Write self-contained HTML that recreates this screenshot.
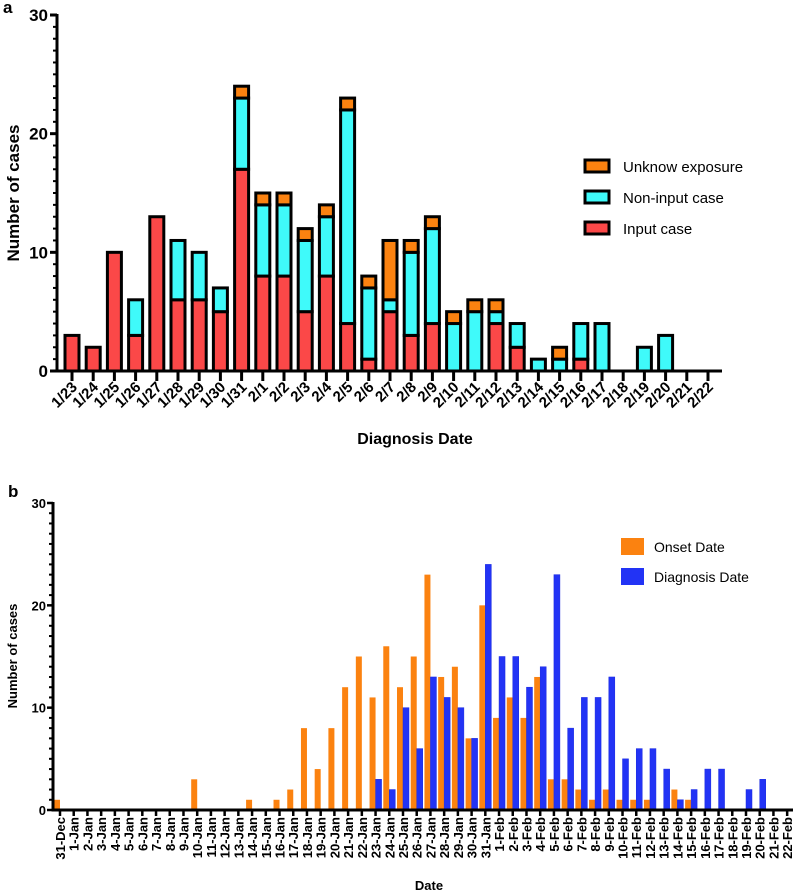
<!DOCTYPE html>
<html><head><meta charset="utf-8"><style>
body{margin:0;background:#fff;}
svg{display:block;font-family:"Liberation Sans",Arial,sans-serif;}
</style></head><body>
<svg id="fig" width="796" height="895" xmlns="http://www.w3.org/2000/svg">
<g id="chartA"></g>
<g id="chartB"></g>
</svg>
<script>
const NS="http://www.w3.org/2000/svg";
function mk(parent,tag,attrs,text){const e=document.createElementNS(NS,tag);for(const k in attrs)e.setAttribute(k,attrs[k]);if(text!==undefined)e.textContent=text;parent.appendChild(e);return e;}

// ---- Chart A data ----
const catsA=["1/23","1/24","1/25","1/26","1/27","1/28","1/29","1/30","1/31","2/1","2/2","2/3","2/4","2/5","2/6","2/7","2/8","2/9","2/10","2/11","2/12","2/13","2/14","2/15","2/16","2/17","2/18","2/19","2/20","2/21","2/22"];
const inputA=[3,2,10,3,13,6,6,5,17,8,8,5,8,4,1,5,3,4,0,0,4,2,0,0,1,0,0,0,0,0,0];
const nonInputA=[0,0,0,3,0,5,4,2,6,6,6,6,5,18,6,1,7,8,4,5,1,2,1,1,3,4,0,2,3,0,0];
const unknownA=[0,0,0,0,0,0,0,0,1,1,1,1,1,1,1,5,1,1,1,1,1,0,0,1,0,0,0,0,0,0,0];
const yTicksA=[0,10,20,30];

// ---- Chart B data ----
const catsB=["31-Dec","1-Jan","2-Jan","3-Jan","4-Jan","5-Jan","6-Jan","7-Jan","8-Jan","9-Jan","10-Jan","11-Jan","12-Jan","13-Jan","14-Jan","15-Jan","16-Jan","17-Jan","18-Jan","19-Jan","20-Jan","21-Jan","22-Jan","23-Jan","24-Jan","25-Jan","26-Jan","27-Jan","28-Jan","29-Jan","30-Jan","31-Jan","1-Feb","2-Feb","3-Feb","4-Feb","5-Feb","6-Feb","7-Feb","8-Feb","9-Feb","10-Feb","11-Feb","12-Feb","13-Feb","14-Feb","15-Feb","16-Feb","17-Feb","18-Feb","19-Feb","20-Feb","21-Feb","22-Feb"];
const onsetB=[1,0,0,0,0,0,0,0,0,0,3,0,0,0,1,0,1,2,8,4,8,12,15,11,16,12,15,23,13,14,7,20,9,11,9,13,3,3,2,1,2,1,1,1,0,2,1,0,0,0,0,0,0,0];
const diagB=[0,0,0,0,0,0,0,0,0,0,0,0,0,0,0,0,0,0,0,0,0,0,0,3,2,10,6,13,11,10,7,24,15,15,12,14,23,8,11,11,13,5,6,6,4,1,2,4,4,0,2,3,0,0];
const yTicksB=[0,10,20,30];

// ---- Chart A ----
(function(){
const g=document.getElementById('chartA');
const x0=57,y0=371,yTop=15,maxV=30;
const xA=i=>72+i*21.2;
const yA=v=>y0-(v/maxV)*(y0-yTop);
const bw=14;
mk(g,'text',{x:3,y:13,'font-size':17,'font-weight':'bold',},'a');
const colors=['#fb4848','#3ffafa','#fb8210'];
const series=[inputA,nonInputA,unknownA];
const names=['input-case','non-input-case','unknown-exposure'];
catsA.forEach((c,i)=>{
  let base=0;
  series.forEach((s,k)=>{
    const v=s[i]; if(v<=0)return;
    const r=mk(g,'rect',{x:xA(i)-bw/2,y:yA(base+v),width:bw,height:yA(base)-yA(base+v),fill:colors[k],stroke:'#000','stroke-width':3});
    
    
    base+=v;
  });
});
mk(g,'line',{x1:x0,y1:yTop-1,x2:x0,y2:y0+1.5,stroke:'#000','stroke-width':3,});
mk(g,'line',{x1:x0-1.5,y1:y0,x2:722,y2:y0,stroke:'#000','stroke-width':3,});
for(let v=0;v<=maxV;v++){const major=v%10===0;mk(g,'line',{x1:x0-(major?7:4),y1:yA(v),x2:x0,y2:yA(v),stroke:'#000','stroke-width':major?3:2});}
yTicksA.forEach(v=>{const t=mk(g,'text',{x:x0-9,y:yA(v)+6,'font-size':17,'font-weight':'bold','text-anchor':'end'},v);});
catsA.forEach((c,i)=>{
  mk(g,'line',{x1:xA(i),y1:y0,x2:xA(i),y2:y0+10,stroke:'#000','stroke-width':3});
  const t=mk(g,'text',{x:xA(i)+6,y:y0+17,'font-size':15,'font-weight':'bold','text-anchor':'end',transform:`rotate(-45 ${xA(i)+6} ${y0+17})`},c);
  
});
mk(g,'text',{x:19,y:193,'font-size':17,'font-weight':'bold','text-anchor':'middle',transform:'rotate(-90 19 193)',},'Number of cases');
mk(g,'text',{x:415,y:444,'font-size':16,'font-weight':'bold','text-anchor':'middle',},'Diagnosis Date');
const leg=[['Unknow exposure',colors[2],160],['Non-input case',colors[1],191],['Input case',colors[0],222]];
leg.forEach(l=>{const lg=mk(g,'g',{});
mk(lg,'rect',{x:585,y:l[2],width:24,height:12,fill:l[1],stroke:'#000','stroke-width':3});
mk(lg,'text',{x:623,y:l[2]+12,'font-size':15},l[0]);});
})();

// ---- Chart B ----
(function(){
const g=document.getElementById('chartB');
const x0=53,y0=810,yTop=503,maxV=30;
const xB=i=>60+i*13.72;
const yB=v=>y0-(v/maxV)*(y0-yTop);
const bw=6;
mk(g,'text',{x:8,y:497,'font-size':17,'font-weight':'bold',},'b');
catsB.forEach((c,i)=>{
  if(onsetB[i]>0){const r=mk(g,'rect',{x:xB(i)-bw,y:yB(onsetB[i]),width:bw,height:y0-yB(onsetB[i]),fill:'#fb8210'});
    }
  if(diagB[i]>0){const r=mk(g,'rect',{x:xB(i),y:yB(diagB[i]),width:bw,height:y0-yB(diagB[i]),fill:'#2233f5',stroke:'#1a2ae0','stroke-width':0.5});
    }
});
mk(g,'line',{x1:x0,y1:yTop-1,x2:x0,y2:y0+1.5,stroke:'#000','stroke-width':3,});
mk(g,'line',{x1:x0-1.5,y1:y0,x2:793,y2:y0,stroke:'#000','stroke-width':3,});
for(let v=0;v<=maxV;v++){const major=v%10===0;mk(g,'line',{x1:x0-(major?6:4),y1:yB(v),x2:x0,y2:yB(v),stroke:'#000','stroke-width':major?2.5:2});}
yTicksB.forEach(v=>{const t=mk(g,'text',{x:x0-7,y:yB(v)+5,'font-size':13,'font-weight':'bold','text-anchor':'end'},v);});
catsB.forEach((c,i)=>{
  mk(g,'line',{x1:xB(i),y1:y0,x2:xB(i),y2:y0+6,stroke:'#000','stroke-width':2.5});
  const t=mk(g,'text',{x:xB(i)+5,y:y0+7,'font-size':13,'font-weight':'bold','text-anchor':'end',transform:`rotate(-90 ${xB(i)+5} ${y0+7})`},c);
  
});
mk(g,'text',{x:17,y:656,'font-size':13,'font-weight':'bold','text-anchor':'middle',transform:'rotate(-90 17 656)',},'Number of cases');
mk(g,'text',{x:429,y:890,'font-size':13,'font-weight':'bold','text-anchor':'middle',},'Date');
[['Onset Date','#fb8210',538],['Diagnosis Date','#2233f5',568]].forEach(l=>{const lg=mk(g,'g',{});
mk(lg,'rect',{x:621,y:l[2],width:23,height:17,fill:l[1]});
mk(lg,'text',{x:654,y:l[2]+14,'font-size':14},l[0]);});
})();
</script>
</body></html>
